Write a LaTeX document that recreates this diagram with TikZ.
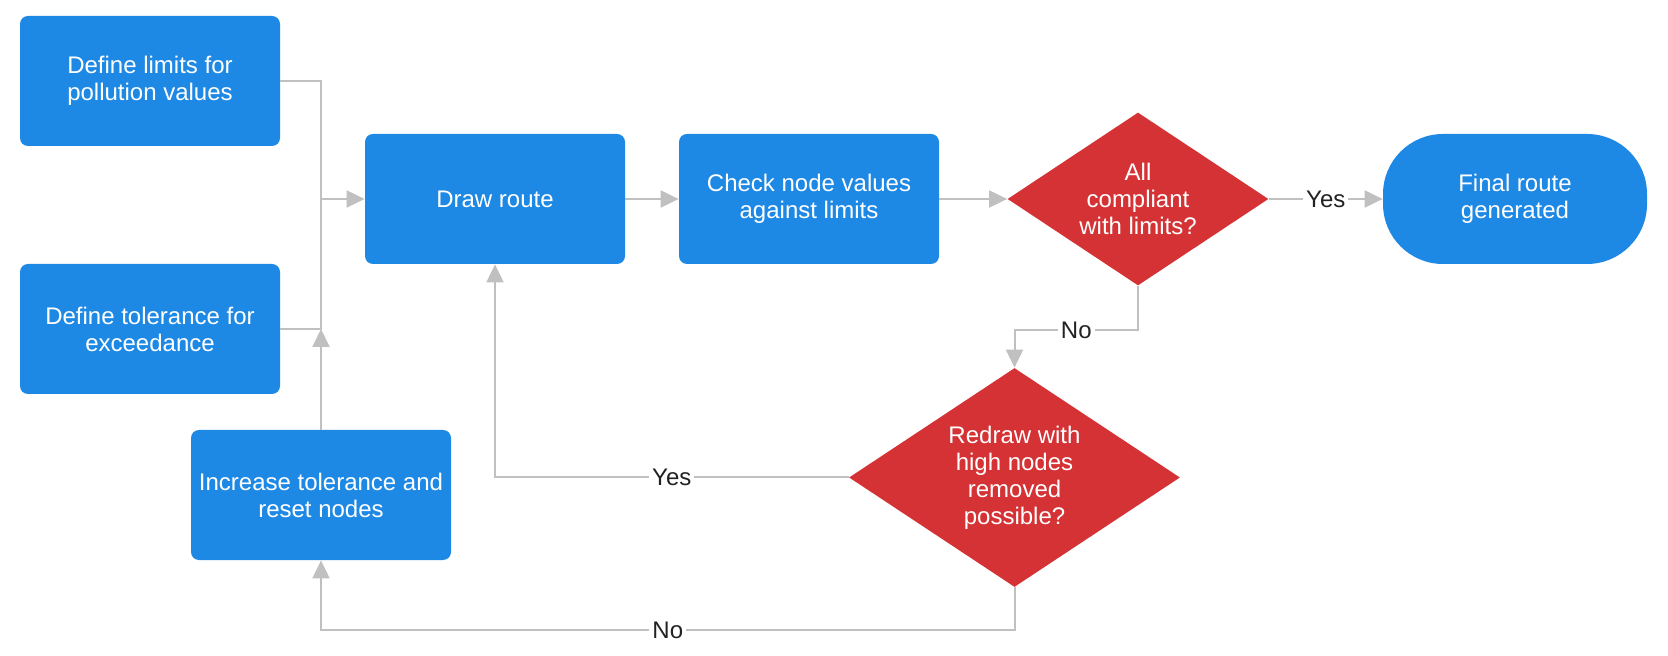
\documentclass[tikz,border=0pt]{standalone}
\usepackage{fontspec}
\setmainfont{Liberation Sans}
\usetikzlibrary{shapes.geometric,arrows.meta}
\definecolor{boxblue}{RGB}{30,137,229}
\definecolor{decred}{RGB}{212,50,52}
\definecolor{linegray}{RGB}{192,192,192}
\definecolor{labeltext}{RGB}{34,34,34}
\begin{document}
\begin{tikzpicture}[x=0.5pt,y=-0.5pt,
  txt/.style={text=white, align=center, font=\fontsize{12}{13.5}\selectfont},
  stepbox/.style={txt, draw=none, fill=boxblue, rounded corners=4pt,
    minimum width=130pt, minimum height=65pt, inner sep=0pt},
  endbox/.style={stepbox, rounded corners=30pt, minimum width=132pt},
  decision/.style={diamond, draw=none, fill=decred, inner sep=0pt},
  conn/.style={draw=linegray, line width=1pt},
  arr/.style={conn, -{Triangle[length=9pt,width=8.5pt]}},
  lbl/.style={fill=white, text=labeltext, inner sep=1.5pt, font=\fontsize{12}{13.5}\selectfont}]
\useasboundingbox[fill=white] (0,0) rectangle (1668,656);

\node[stepbox] (A) at (150,81) {Define limits for\\pollution values};
\node[stepbox] (B) at (150,329) {Define tolerance for\\exceedance};
\node[stepbox] (draw) at (495,199) {Draw route};
\node[stepbox] (check) at (809,199) {Check node values\\against limits};
\node[decision, minimum width=130.5pt, minimum height=86.5pt] (d1) at (1138,199) {};
\node[txt] (d1t) at (d1.center) {All\\compliant\\with limits?};
\node[endbox] (final) at (1515,199) {Final route\\generated};
\node[decision, minimum width=165.5pt, minimum height=109.5pt] (d2) at (1014.5,477.5) {};
\node[txt] (d2t) at (d2.center) {Redraw with\\high nodes\\removed\\possible?};
\node[stepbox] (inc) at (321,495) {Increase tolerance and\\reset nodes};

\coordinate (tj) at (321,199);
\draw[arr] (A.east) -| (tj) -- (draw.west);
\draw[conn] (B.east) -| (tj);
\draw[arr] (inc.north) -- (inc.north |- B.east);
\draw[arr] (draw.east) -- (check.west);
\draw[arr] (check.east) -- (d1.west);
\draw[arr] (d1.east) -- node[lbl]{Yes} (final.west);
\draw[arr] (d1.south) -- ++(0,44) -| node[lbl,pos=0.25]{No} (d2.north);
\draw[arr] (d2.west) -- node[lbl]{Yes} (d2.west -| draw.south) -- (draw.south);
\draw[arr] (d2.south) -- ++(0,43) -| node[lbl,pos=0.25]{No} (inc.south);
\end{tikzpicture}
\end{document}
